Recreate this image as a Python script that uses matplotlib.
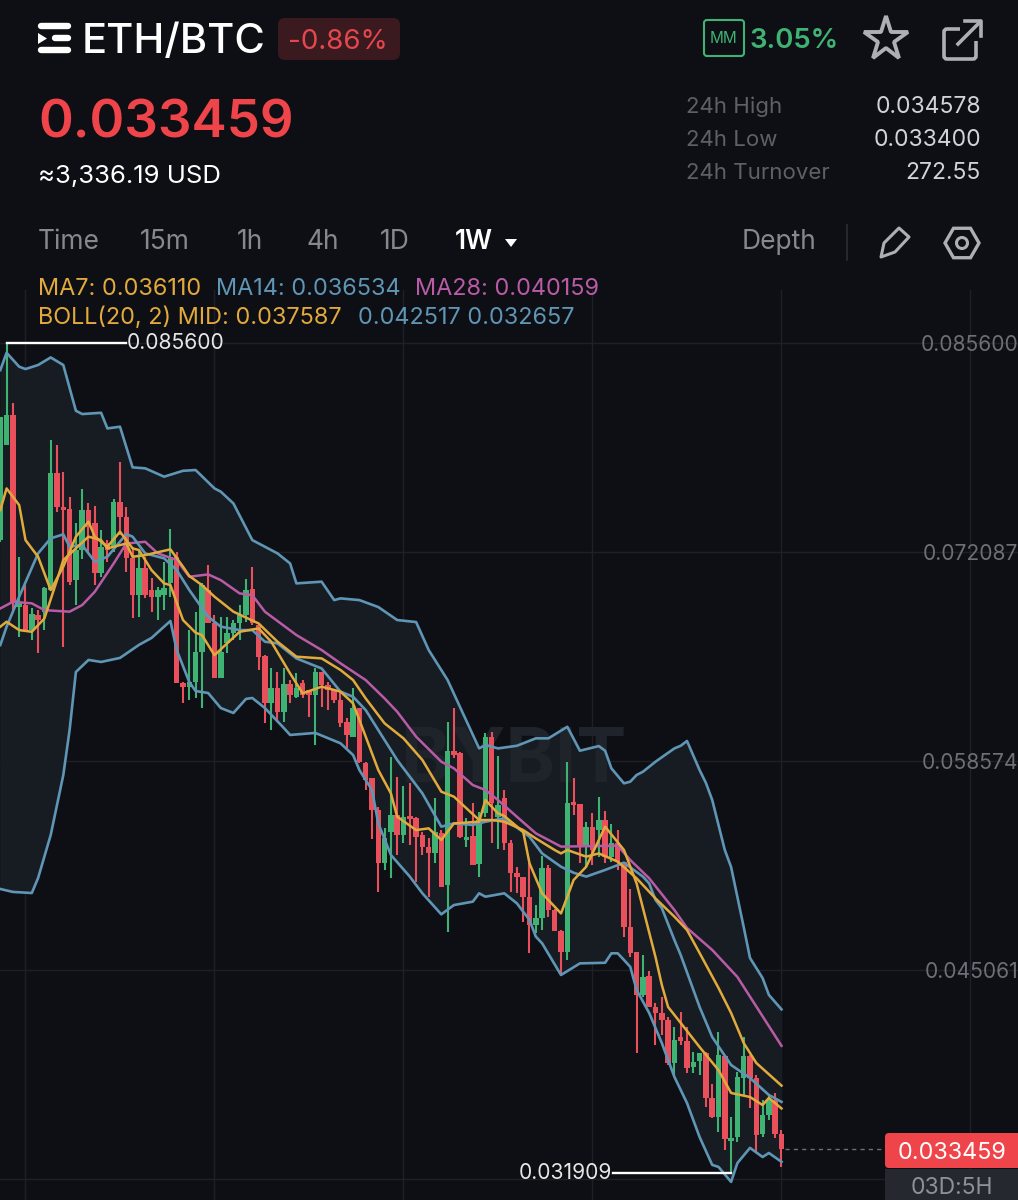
import matplotlib
matplotlib.use("Agg")
import matplotlib.pyplot as plt
from matplotlib.patches import Circle, FancyBboxPatch, Polygon, Rectangle, RegularPolygon
import math

plt.rcParams["font.family"] = ["Inter", "DejaVu Sans"]

# weekly candles, ETH/BTC
opens = [.07286, .07900, .08094, .06855, .06866, .06704, .06801, .06823, .06963, .07717,
         .07502, .07487, .07028, .07222, .07480, .07394, .07071, .07265, .07243, .07534,
         .07437, .07168, .06930, .07103, .06963, .06916, .06930, .07006, .07179, .06364,
         .06338, .06370, .06564, .06963, .06747, .06392, .06618, .06683, .06747, .06801,
         .06967, .06736, .06536, .06230, .06327, .06176, .06353, .06273, .06359, .06316,
         .06284, .06435, .06349, .06316, .06252, .06112, .06015, .06198, .05847, .05745,
         .05541, .05196, .05400, .05508, .05379, .05502, .05487, .05379, .05304, .05260,
         .05390, .05056, .05924, .05911, .05347, .05372, .05191, .05519, .06015, .05497,
         .05616, .05325, .05135, .05109, .04976, .04797, .04840, .05163, .04894, .04760,
         .04625, .05594, .05579, .05314, .05433, .05411, .05476, .05239, .05325, .05207,
         .04786, .04623, .04345, .04468, .04267, .04228, .04183, .03905, .04073, .04047,
         .03879, .03918, .03970, .03679, .03556, .03950, .03401, .03426, .03808, .03950,
         .03808, .03446, .03569, .03666, .03446]
closes = [.08084, .08094, .06877, .06877, .06704, .06808, .06769, .06974, .07717, .07502,
          .07480, .07017, .07222, .07480, .07372, .07071, .07243, .07222, .07534, .07437,
          .07168, .06930, .07103, .06930, .06916, .06963, .06974, .07179, .06364, .06338,
          .06370, .06564, .06995, .06747, .06392, .06564, .06683, .06747, .06801, .06963,
          .06747, .06532, .06230, .06327, .06176, .06353, .06284, .06327, .06284, .06284,
          .06435, .06349, .06316, .06252, .06101, .06025, .06198, .05853, .05735, .05541,
          .05196, .05357, .05508, .05379, .05497, .05480, .05368, .05304, .05260, .05400,
          .05045, .05924, .05896, .05368, .05368, .05185, .05476, .06015, .05584, .05573,
          .05325, .05135, .05109, .04980, .04797, .04840, .05163, .04894, .04760, .04625,
          .05584, .05573, .05314, .05433, .05282, .05476, .05239, .05325, .05207, .04786,
          .04616, .04345, .04461, .04267, .04228, .04183, .03905, .04054, .04047, .03873,
          .03911, .03970, .03679, .03556, .03957, .03414, .03420, .03815, .03950, .03808,
          .03439, .03569, .03666, .03446, .033459]
highs = [.08084, .08560, .08170, .07179, .06995, .06844, .06833, .06984, .07933, .07900,
         .07728, .07566, .07394, .07614, .07528, .07506, .07351, .07286, .07549, .07793,
         .07502, .07243, .07222, .07179, .07038, .06984, .07146, .07357, .07211, .06370,
         .06704, .06823, .07006, .07125, .06801, .06791, .06791, .06769, .06866, .07032,
         .07114, .06747, .06543, .06457, .06435, .06457, .06381, .06424, .06381, .06316,
         .06457, .06435, .06370, .06316, .06310, .06133, .06327, .06198, .05853, .05745,
         .05562, .05422, .05885, .05756, .05696, .05713, .05497, .05400, .05357, .05616,
         .05411, .06112, .06198, .05918, .05487, .05584, .05530, .06036, .06047, .05890,
         .05670, .05347, .05174, .05109, .05196, .04926, .05243, .05185, .04898, .04765,
         .05853, .05745, .05579, .05465, .05519, .05627, .05536, .05450, .05411, .05207,
         .05028, .04623, .04603, .04500, .04293, .04332, .04202, .04138, .04235, .04138,
         .03976, .03970, .03976, .03769, .04105, .03957, .03556, .03847, .04073, .03957,
         .03828, .03666, .03698, .03711, .03472]
lows = [.07276, .07900, .06812, .06661, .06704, .06640, .06554, .06704, .06963, .07469,
        .06597, .06995, .06866, .07161, .07211, .06995, .07049, .07146, .07211, .07318,
        .07082, .06779, .06791, .06909, .06823, .06769, .06833, .06920, .06364, .06230,
        .06252, .06263, .06198, .06747, .06392, .06392, .06554, .06640, .06640, .06758,
        .06736, .06446, .06101, .06058, .06122, .06112, .06230, .06263, .06263, .06144,
        .05961, .06209, .06187, .06230, .06080, .05939, .06015, .05842, .05670, .05351,
        .05013, .05153, .05099, .05250, .05325, .05314, .05077, .05250, .04980, .05196,
        .05045, .04754, .05875, .05357, .05304, .05185, .05110, .05497, .05325, .05286,
        .05282, .05013, .05002, .04819, .04614, .04743, .04765, .04851, .04760, .04485,
        .04571, .05508, .05196, .05174, .05185, .05239, .05196, .05207, .05153, .04722,
        .04590, .03970, .04332, .04267, .04021, .04086, .03892, .03828, .04021, .03840,
        .03840, .03828, .03620, .03549, .03459, .03343, .031909, .03394, .03692, .03614,
        .03330, .03426, .03536, .03420, .03233]

# indicator lines, read at the candles where they bend
upper_x = [0, 1, 3, 4, 6, 8, 10, 12, 13, 16, 17, 19, 21, 23, 26, 29, 31, 34, 35, 37, 40, 44, 46, 47, 51, 53, 54,
           57, 60, 63, 66, 68, 71, 76, 77, 79, 82, 85, 87, 90, 92, 95, 96, 97, 99, 100, 101, 102, 104, 107, 108,
           109, 111, 112, 113, 115, 116, 118, 119, 121, 122, 124]
upper = [.08385, .08497, .08407, .08392, .08418, .08467, .08418, .08122, .08101, .08109, .08008, .08019, .07756,
         .07750, .07696, .07734, .07739, .07620, .07599, .07523, .07286, .07200, .07135, .07006, .07017, .06898,
         .06909, .06898, .06853, .06769, .06756, .06575, .06381, .05939, .05961, .05939, .05956, .06004, .06004,
         .06079, .05924, .05954, .05924, .05810, .05713, .05724, .05767, .05788, .05853, .05939, .05956, .05987,
         .05799, .05716, .05606, .05282, .05172, .04784, .04584, .04454, .04345, .042517]
lower_x = [0, 2, 5, 6, 8, 9, 10, 11, 12, 14, 16, 19, 22, 24, 27, 28, 30, 31, 33, 35, 37, 39, 40, 42, 45, 46, 50,
           54, 56, 57, 59, 60, 62, 65, 67, 70, 72, 75, 76, 77, 80, 82, 84, 85, 86, 89, 92, 96, 97, 98, 99, 100,
           101, 103, 105, 107, 109, 111, 113, 114, 116, 117, 119, 121, 122, 124]
lower = [.05030, .05011, .05004, .05101, .05379, .05573, .05767, .06058, .06433, .06511, .06498, .06524, .06608,
         .06653, .06763, .06575, .06368, .06310, .06297, .06200, .06168, .06259, .06265, .06200, .06071, .06026,
         .06039, .05972, .05896, .05799, .05670, .05454, .05250, .05110, .05002, .04866, .04926, .04948, .05002,
         .04980, .05002, .04937, .04830, .04722, .04679, .04474, .04549, .04553, .04614, .04614, .04571, .04526,
         .04377, .04228, .04034, .03815, .03646, .03426, .03246, .03233, .03136, .03258, .03356, .03297, .03323,
         .032657]
mid_x = [0, 1, 3, 5, 7, 9, 10, 14, 16, 17, 20, 21, 23, 27, 29, 30, 32, 34, 37, 41, 44, 47, 51, 54, 56, 58, 61, 64,
         67, 70, 72, 76, 78, 80, 83, 85, 88, 89, 90, 93, 95, 98, 101, 104, 107, 109, 111, 114, 116, 118, 120, 124]
mid = [.06726, .06758, .06704, .06693, .06779, .07027, .07157, .07308, .07286, .07232, .07264, .07178, .07189,
       .07226, .07114, .07054, .06995, .06920, .06823, .06747, .06629, .06532, .06521, .06446, .06381, .06262,
       .06101, .06004, .05864, .05659, .05627, .05476, .05476, .05465, .05411, .05357, .05282, .05260, .05282,
       .05239, .05260, .05207, .05099, .04969, .04851, .04765, .04616, .04390, .04228, .04034, .03905, .037587]
ma7_x = [0, 1, 3, 4, 6, 8, 10, 12, 14, 15, 17, 19, 21, 22, 24, 26, 27, 29, 31, 32, 34, 36, 38, 41, 43, 46, 48, 51,
         54, 56, 58, 60, 62, 63, 66, 68, 70, 72, 76, 77, 79, 80, 83, 84, 86, 89, 91, 93, 96, 99, 101, 104, 105,
         106, 108, 111, 114, 116, 119, 121, 122, 124]
ma7 = [.07480, .07620, .07512, .07286, .07178, .06963, .07114, .07308, .07405, .07308, .07243, .07340, .07232,
       .07222, .07092, .07006, .06995, .06769, .06687, .06672, .06542, .06618, .06693, .06715, .06629, .06424,
       .06295, .06338, .06306, .06230, .06015, .05799, .05648, .05497, .05411, .05422, .05347, .05454, .05465,
       .05605, .05519, .05502, .05400, .05196, .05002, .04872, .05088, .05174, .05433, .05282, .05066, .04590,
       .04410, .04267, .04164, .04008, .03859, .03711, .03685, .03633, .03679, .036110]
ma14_x = [0, 1, 3, 6, 8, 10, 11, 13, 15, 17, 20, 21, 23, 26, 28, 30, 33, 35, 38, 40, 42, 44, 47, 51, 54, 56, 58,
          61, 63, 67, 70, 72, 75, 77, 80, 84, 86, 89, 91, 93, 96, 99, 102, 103, 104, 105, 107, 108, 111, 113,
          116, 119, 122, 124]
ma14 = [.06607, .06726, .06920, .07200, .07297, .07323, .07243, .07254, .07146, .07178, .07325, .07308, .07200,
        .07168, .07092, .06963, .06790, .06726, .06704, .06704, .06629, .06618, .06521, .06456, .06306, .06273,
        .06187, .05993, .05864, .05648, .05433, .05454, .05444, .05465, .05487, .05368, .05260, .05174, .05135,
        .05110, .05153, .05200, .05110, .05066, .04959, .04907, .04700, .04603, .04267, .04073, .03892, .03808,
        .03698, .036534]
ma28_x = [0, 2, 5, 7, 11, 13, 15, 18, 20, 23, 25, 28, 30, 33, 35, 38, 40, 42, 47, 51, 54, 58, 61, 63, 66, 70, 72,
          75, 77, 79, 82, 85, 89, 98, 100, 103, 107, 109, 113, 117, 124]
ma28 = [.06844, .06887, .06877, .06833, .06823, .06866, .06952, .07135, .07264, .07275, .07200, .07157, .07049,
        .07064, .07027, .06941, .06930, .06823, .06672, .06575, .06489, .06381, .06262, .06176, .06015, .05853,
        .05810, .05702, .05670, .05605, .05497, .05390, .05304, .05310, .05217, .05099, .04894, .04778, .04636,
        .04461, .040159]

price_ticks = [.085600, .072087, .058574, .045061, .031548]
price_tick_labels = ["0.085600", "0.072087", "0.058574", "0.045061", ""]
grid_candles = [4, 34, 64, 94, 124, 154]
last_price = .033459
high_price = .085600
low_price = .031909

BG = "#0e0f14"
RED = "#e9505c"
GREEN = "#3fb374"
BLUE = "#5f95b5"
PINK = "#b95ba6"
YELLOW = "#e2aa3c"
GREY = "#85888e"
ICON = "#adafb4"

fig = plt.figure(figsize=(10.18, 12), dpi=100, facecolor=BG)

# one candle is 6.3 px wide, first candle sits at x=0.3
ax = fig.add_axes([0, 0, 1, 910 / 1200], facecolor=BG)
ax.set_xlim(-0.3 / 6.3, 1017.7 / 6.3)
ax.set_ylim(.03019, .08903)
for s in ax.spines.values():
    s.set_visible(False)
ax.set_xticks(grid_candles)
ax.set_xticklabels([])
ax.set_yticks(price_ticks)
ax.set_yticklabels(price_tick_labels, color="#6c6f75", fontsize=15.2)
ax.yaxis.tick_right()
ax.tick_params(length=0, pad=0)
for lbl in ax.get_yticklabels():
    lbl.set_ha("right")
ax.grid(color="#1d2026", lw=1)
ax.set_axisbelow(True)

ax.fill(upper_x + lower_x[::-1], upper + lower[::-1], color="#171c22", zorder=1, lw=0)
ax.text(81.5, .0585, "BYBIT", color="#1f242b", fontsize=54, fontweight="bold", ha="center", va="center", zorder=1.5)

xs = list(range(len(opens)))
colors = [GREEN if c >= o else RED for o, c in zip(opens, closes)]
ax.vlines(xs, lows, highs, colors=colors, lw=1.5, zorder=2)
ax.bar(xs, [abs(c - o) for o, c in zip(opens, closes)], bottom=[min(o, c) for o, c in zip(opens, closes)],
       width=0.86, color=colors, lw=0, zorder=2)

ax.plot(ma28_x, ma28, color=PINK, lw=1.8, zorder=3)
ax.plot(upper_x, upper, color=BLUE, lw=1.9, zorder=3)
ax.plot(lower_x, lower, color=BLUE, lw=1.9, zorder=3)
ax.plot(ma14_x, ma14, color=BLUE, lw=1.9, zorder=3)
ax.plot(mid_x, mid, color=YELLOW, lw=1.8, zorder=3)
ax.plot(ma7_x, ma7, color=YELLOW, lw=1.8, zorder=3)

# high / low markers
ax.plot([1, 20], [high_price, high_price], color="white", lw=1.7, zorder=4)
ax.text(20.1, high_price, "0.085600", color="#e6e6e6", fontsize=15.2, ha="left", va="center", zorder=4)
ax.plot([97.2, 116], [low_price, low_price], color="white", lw=1.7, zorder=4)
ax.text(97.1, low_price, "0.031909", color="#e6e6e6", fontsize=15.2, ha="right", va="center", zorder=4)
ax.plot([124.5, 140.4], [last_price, last_price], color="#6c6f75", lw=1, ls=(0, (3, 3)), zorder=2)

# app chrome above the chart, in pixels
ui = fig.add_axes([0, 0, 1, 1])
ui.set_xlim(0, 1018)
ui.set_ylim(1200, 0)
ui.axis("off")


def label(x, y, s, color, size, ha="left", weight="normal"):
    # va=center sits high on this font, push it down with the size
    ui.text(x, y + size * 0.13, s, color=color, fontsize=size, ha=ha, va="center", fontweight=weight)


# logo
for x0, yb in [(41, 26), (55, 38), (41, 50)]:
    ui.plot([x0, 68], [yb, yb], color="white", lw=4.6, solid_capstyle="round")
ui.add_patch(Polygon([(38, 33), (47, 38.5), (38, 44)], color="white", lw=0))
label(82, 38.5, "ETH/BTC", "white", 30, weight="medium")
ui.add_patch(FancyBboxPatch((284, 24), 110, 30, boxstyle="round,pad=6,rounding_size=7", color="#3a1a1f", lw=0))
label(288, 39, "-0.86%", "#e5474e", 20)

ui.add_patch(FancyBboxPatch((707, 23), 34, 30, boxstyle="round,pad=3,rounding_size=3", fc="none", ec=GREEN, lw=1.5))
label(724, 37, "MM", GREEN, 11, ha="center")
label(750, 38, "3.05%", GREEN, 19.8, weight="semibold")
ui.plot([886], [39], marker="*", ms=33, mfc="none", mec=ICON, mew=2.8)
ui.add_patch(FancyBboxPatch((947, 32), 26, 24, boxstyle="round,pad=3,rounding_size=3", fc=BG, ec=ICON, lw=2.6))
ui.add_patch(Rectangle((960, 19), 24, 22, color=BG, lw=0))
ui.plot([958, 980], [44, 22], color=ICON, lw=2.6)
ui.plot([965, 981, 981], [21, 21, 36], color=ICON, lw=2.6)

label(38, 119, "0.033459", "#ef454a", 38, weight="semibold")
label(38, 174, "≈3,336.19 USD", "white", 18.5)
for y, name, value in [(105, "24h High", "0.034578"), (138, "24h Low", "0.033400"), (171, "24h Turnover", "272.55")]:
    label(686, y, name, "#5e6066", 16)
    label(981, y, value, "#d2d3d7", 16.5, ha="right")

for x, tab in [(38, "Time"), (140, "15m"), (237, "1h"), (307, "4h"), (380, "1D")]:
    label(x, 240, tab, GREY, 19)
label(455, 240, "1W", "white", 19, weight="semibold")
ui.add_patch(Polygon([(505, 239), (517, 239), (511, 247)], color="white", lw=0))
label(742, 240, "Depth", GREY, 19)
ui.plot([847, 847], [225, 260], color="#2b2e34", lw=1.2)
ui.add_patch(Polygon([(881, 257), (884, 243), (899, 228), (909, 237), (895, 252)], fc="none", ec=ICON, lw=2.2, joinstyle="round"))
ui.add_patch(RegularPolygon((962, 243), 6, radius=17, orientation=math.pi / 2, fc="none", ec=ICON, lw=2.4))
ui.add_patch(Circle((962, 243), 5.5, fc="none", ec=ICON, lw=2.2))

label(38, 287, "MA7: 0.036110", YELLOW, 16.9)
label(216, 287, "MA14: 0.036534", BLUE, 16.9)
label(415, 287, "MA28: 0.040159", PINK, 16.9)
label(38, 316, "BOLL(20, 2) MID: 0.037587", YELLOW, 16.9)
label(358, 316, "0.042517 0.032657", BLUE, 16.9)

# current price tag
ui.add_patch(FancyBboxPatch((889, 1137), 140, 27, boxstyle="round,pad=4,rounding_size=4", color="#ef454a", lw=0))
label(952, 1151, "0.033459", "white", 16.8, ha="center")
ui.add_patch(Rectangle((885, 1169), 133, 31, color="#25282e", lw=0))
label(952, 1186, "03D:5H", "#8d9096", 16.5, ha="center")

fig.savefig("out.png", dpi=100, facecolor=BG)
